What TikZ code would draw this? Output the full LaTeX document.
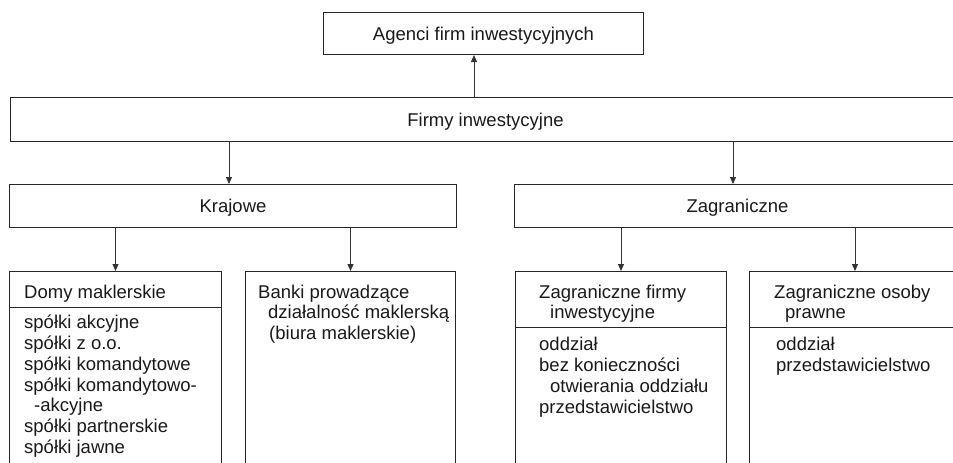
\documentclass[tikz,border=0pt]{standalone}
\usepackage{fontspec}
\setmainfont{Liberation Sans}
\usetikzlibrary{arrows.meta}
\begin{document}
\begin{tikzpicture}[x=1pt,y=-1pt,
  box/.style={draw=black!85, line width=1pt, inner sep=0pt, anchor=north west,
    font=\fontsize{18.5}{20.8}\selectfont, text=black!90, text height=13.3pt, text depth=0pt},
  lbl/.style={font=\fontsize{18.5}{20.8}\selectfont, text=black!90, inner sep=0pt, anchor=base west},
  arr/.style={draw=black!80, line width=1pt, -{Triangle[length=7pt,width=6pt]}},
  divider/.style={draw=black!85, line width=1pt},
]
\useasboundingbox (0,0) rectangle (953,463);
\clip (0,0) rectangle (953,463);

% main boxes
\node[box, minimum width=320pt, minimum height=42pt] (agenci) at (323,12) {Agenci firm inwestycyjnych};
\node[box, minimum width=950pt, minimum height=44pt] (firmy) at (10,97) {Firmy inwestycyjne};
\node[box, minimum width=447pt, minimum height=43pt] (krajowe) at (9,184) {Krajowe};
\node[box, minimum width=446pt, minimum height=43pt] (zagr) at (514,184) {Zagraniczne};

% bottom boxes (open at the bottom edge)
\node[box, minimum width=212pt, minimum height=230pt] (domy) at (9,271) {};
\node[box, minimum width=210pt, minimum height=230pt] (banki) at (245,271) {};
\node[box, minimum width=211pt, minimum height=230pt] (zfirmy) at (515,271) {};
\node[box, minimum width=211pt, minimum height=230pt] (zosoby) at (749,271) {};

% dividers
\draw[divider] (domy.west |- 0,307) -- (domy.east |- 0,307);
\draw[divider] (zfirmy.west |- 0,327) -- (zfirmy.east |- 0,327);
\draw[divider] (zosoby.west |- 0,327) -- (zosoby.east |- 0,327);

% connectors
\draw[arr] ([xshift=151pt]agenci.south west |- firmy.north) -- ([xshift=151pt]agenci.south west);
\draw[arr] ([xshift=220pt]krajowe.north west |- firmy.south) -- ([xshift=220pt]krajowe.north west);
\draw[arr] ([xshift=219pt]zagr.north west |- firmy.south) -- ([xshift=219pt]zagr.north west);
\draw[arr] (domy.north |- krajowe.south) -- (domy.north);
\draw[arr] (banki.north |- krajowe.south) -- (banki.north);
\draw[arr] (zfirmy.north |- zagr.south) -- (zfirmy.north);
\draw[arr] (zosoby.north |- zagr.south) -- (zosoby.north);

% Domy maklerskie
\node[lbl] (d0) at (24,298.3) {Domy maklerskie};
\node[lbl] (d1) at (24,328.6) {spółki akcyjne};
\node[lbl] (d2) at (24,349.4) {spółki z o.o.};
\node[lbl] (d3) at (24,370.2) {spółki komandytowe};
\node[lbl] (d4) at (24,391.0) {spółki komandytowo-};
\node[lbl] (d5) at (34,411.8) {-akcyjne};
\node[lbl] (d6) at (24,432.6) {spółki partnerskie};
\node[lbl] (d7) at (24,453.4) {spółki jawne};

% Banki
\node[lbl] (b0) at (258,298.3) {Banki prowadzące};
\node[lbl] (b1) at (268,318.8) {działalność maklerską};
\node[lbl] (b2) at (269,339.6) {(biura maklerskie)};

% Zagraniczne firmy inwestycyjne
\node[lbl] (f0) at (539,298.3) {Zagraniczne firmy};
\node[lbl] (f1) at (550,318.8) {inwestycyjne};
\node[lbl] (f2) at (539,350.9) {oddział};
\node[lbl] (f3) at (539,371.7) {bez konieczności};
\node[lbl] (f4) at (550,392.5) {otwierania oddziału};
\node[lbl] (f5) at (539,413.3) {przedstawicielstwo};

% Zagraniczne osoby prawne
\node[lbl] (o0) at (774,298.3) {Zagraniczne osoby};
\node[lbl] (o1) at (785,318.8) {prawne};
\node[lbl] (o2) at (776,350.9) {oddział};
\node[lbl] (o3) at (776,371.7) {przedstawicielstwo};
\end{tikzpicture}
\end{document}
